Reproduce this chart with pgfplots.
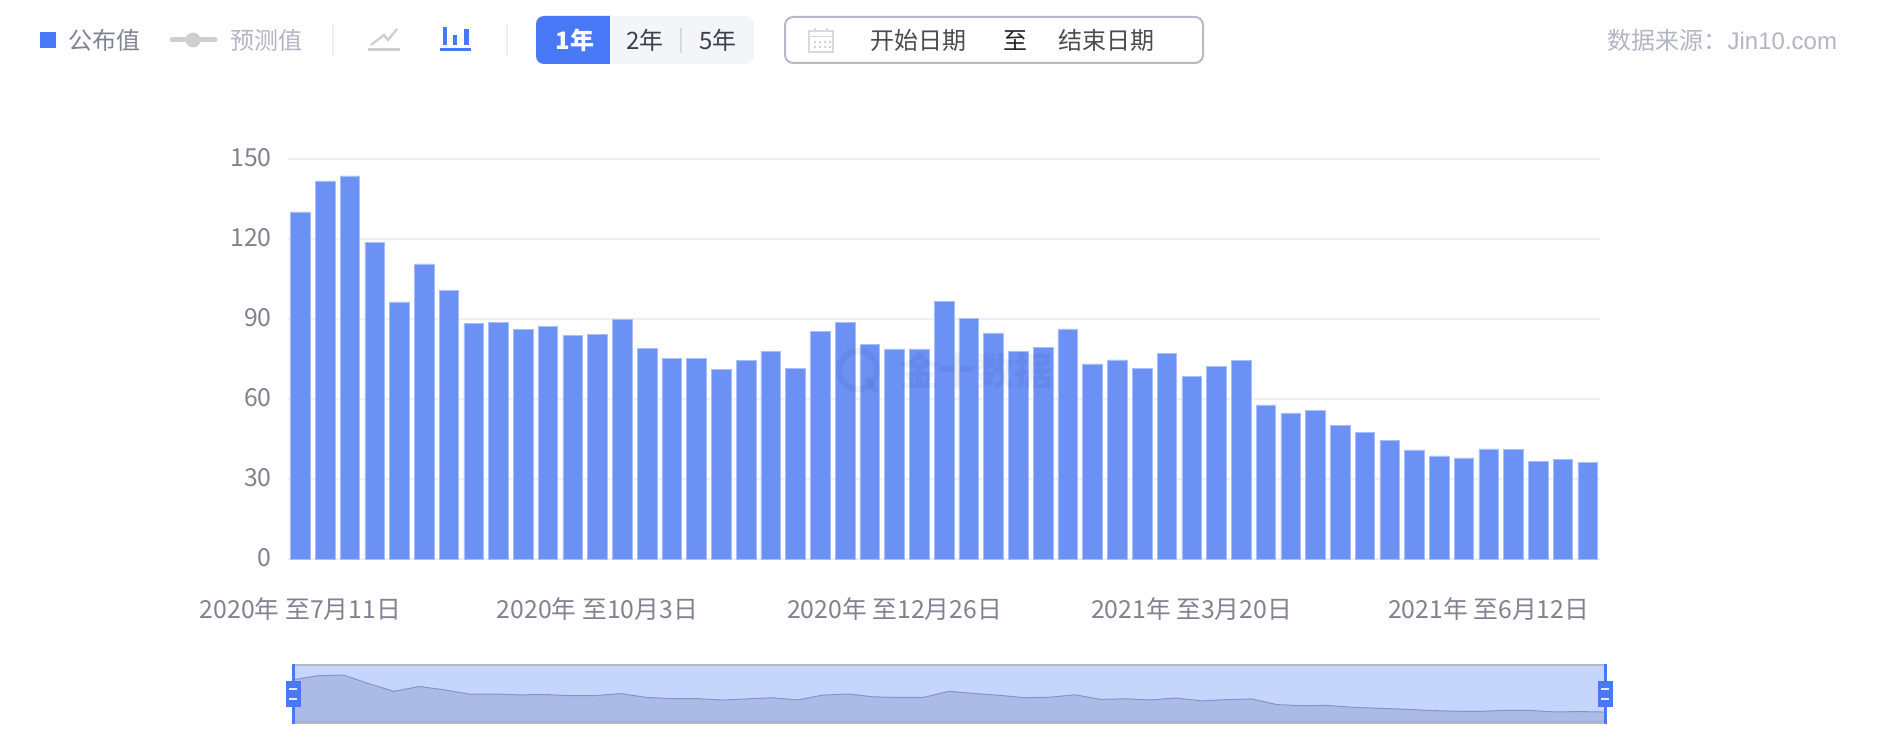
\documentclass[border=0pt]{standalone}
\usepackage{fontspec}
\usepackage{pgfplots}
\usepackage{pgfplotstable}
\pgfplotsset{compat=1.18}
\setmainfont{Noto Sans CJK SC}
\newfontfamily\latin{Liberation Sans}
\definecolor{barc}{HTML}{6B91F4}
\definecolor{baredge}{HTML}{A6BEF9}
\definecolor{gridc}{HTML}{EEEFF3}
\definecolor{labc}{HTML}{7F8290}
\definecolor{mainblue}{HTML}{4878F5}
\definecolor{sel}{HTML}{C5D5FC}
\definecolor{areac}{HTML}{ACBBE6}
\definecolor{linec}{HTML}{8295CB}
\definecolor{frame}{HTML}{B4B8C8}
\definecolor{faint}{HTML}{B2B5C3}
\definecolor{iconc}{HTML}{CFCFCF}
\definecolor{sepc}{HTML}{EEEEF1}
\definecolor{btn}{HTML}{F3F5F9}
\definecolor{dark}{HTML}{3A3F4F}
\pgfplotstableread{
i v
0 130.2
1 141.8
2 143.7
3 118.8
4 96.4
5 110.7
6 100.8
7 88.3
8 88.6
9 86.2
10 87.2
11 83.9
12 84.2
13 89.9
14 78.9
15 75.3
16 75.3
17 71.1
18 74.4
19 77.9
20 71.4
21 85.4
22 88.7
23 80.4
24 78.8
25 78.8
26 96.7
27 90.2
28 84.8
29 78
30 79.4
31 86.3
32 73.2
33 74.7
34 71.4
35 77.2
36 68.6
37 72.2
38 74.4
39 57.8
40 54.8
41 55.6
42 50.1
43 47.4
44 44.6
45 40.9
46 38.7
47 37.9
48 41.3
49 41.2
50 36.6
51 37.5
52 36.2
}\datatable
\newcommand{\tf}{\fontsize{12pt}{14pt}\selectfont}
\newcommand{\lf}{\fontsize{12.4pt}{14pt}\selectfont}
\tikzset{px/.style={x=0.5pt,y=-0.5pt,yshift=373pt,every node/.style={inner sep=0pt,outer sep=0pt}}}
\begin{document}
\begin{tikzpicture}
\begin{scope}[px]
\path[use as bounding box] (0,0) rectangle (1888,746);
% toolbar: legend
\fill[mainblue] (40,32) rectangle (56,48);
\node[anchor=base,text=labc,font=\tf] at (104,50) {公布值};
\draw[iconc,line width=2.5pt,line cap=round] (172,40) -- (215,40);
\fill[iconc] (193,40) circle (7.5);
\node[anchor=base,text=faint,font=\tf] at (266,50) {预测值};
\draw[sepc,line width=1pt] (333,24) -- (333,56);
% line icon
\draw[iconc,line width=1.5pt] (368,50) -- (400,50);
\draw[iconc,line width=1.2pt] (371,45) -- (384,35) -- (388,40) -- (397,29);
% bar icon
\fill[mainblue] (440,48.5) rectangle (471,51.5);
\fill[mainblue] (443,27) rectangle (447,45);
\fill[mainblue] (453,35) rectangle (457,45);
\fill[mainblue] (464,29) rectangle (469,45);
\draw[sepc,line width=1pt] (507,24) -- (507,56);
% buttons
\fill[btn,rounded corners=4pt] (536,16) rectangle (754,64);
\fill[mainblue,rounded corners=4pt] (536,16) rectangle (620,64);
\fill[btn] (610,16) rectangle (625,64);
\node[anchor=base,text=white,font=\tf\bfseries] at (575,50) {1年};
\node[anchor=base,text=dark,font=\tf] at (645,50) {2年};
\draw[gray!30,line width=0.6pt] (681,28) -- (681,53);
\node[anchor=base,text=dark,font=\tf] at (718,50) {5年};
% date box
\draw[frame,line width=1pt,rounded corners=4pt] (785,17) rectangle (1203,63);
\draw[black!15,line width=0.7pt] (809,31) rectangle (833,52);
\draw[black!15,line width=0.7pt] (809,36.5) -- (833,36.5);
\draw[black!15,line width=0.7pt] (815,28) -- (815,32) (827,28) -- (827,32);
\foreach \xx in {814,819,824,829}{\fill[black!18] (\xx,41) rectangle +(2,2);\fill[black!18] (\xx,46) rectangle +(2,2);}
\node[anchor=base,text=black!70,font=\tf] at (918.5,50) {开始日期};
\node[anchor=base,text=black!85,font=\tf] at (1015,50) {至};
\node[anchor=base,text=black!70,font=\tf] at (1106,50) {结束日期};
\node[anchor=base east,text=faint,font=\tf] at (1837,50) {数据来源：{\latin Jin10.com}};
\end{scope}
% main axis
\begin{axis}[
  at={(144pt,93.5pt)},anchor=south west,scale only axis,
  width=656pt,height=200pt,
  xmin=-0.5,xmax=52.5,ymin=0,ymax=150,
  axis x line=bottom,axis y line=left,
  axis line style={-},
  x axis line style={draw=gridc,line width=1pt},
  y axis line style={draw=none},
  ytick={0,30,60,90,120,150},
  xtick={0,12,24,36,48},
  xticklabels={2020年 至7月11日,2020年 至10月3日,2020年 至12月26日,2021年 至3月20日,2021年 至6月12日},
  major tick length=0pt,
  ymajorgrids,
  major grid style={draw=gridc,line width=1pt},
  /pgf/number format/assume math mode=true,
  ticklabel style={font=\lf,text=labc},
  yticklabel style={inner sep=0pt,xshift=-8pt,yshift=0.5pt},
  xticklabel style={inner sep=0pt,yshift=-19pt},
]
\addplot[ybar,bar width=9.8pt,bar shift=0pt,fill=barc,draw=baredge,line width=0.25pt] table[x=i,y=v] {\datatable};
\end{axis}
\begin{scope}[px]
% watermark
\begin{scope}[opacity=0.05]
\draw[black!70!blue,line width=3pt] (858,370) circle (19);
\draw[black!70!blue,line width=3pt] (866,378) -- (876,392);
\node[anchor=west,text=black!70!blue,font=\fontsize{19pt}{21pt}\selectfont\bfseries] at (900,371) {金十数据};
\end{scope}
\fill[sel] (293,665) rectangle (1605,722);
\end{scope}
% minimap
\begin{axis}[
  at={(146.5pt,12pt)},anchor=south west,scale only axis,
  width=656pt,height=28.5pt,
  xmin=0,xmax=52,ymin=7.3,ymax=173,
  axis lines=none,clip=false,
]
\addplot[draw=linec,line width=0.5pt,fill=areac] table[x=i,y=v] {\datatable} \closedcycle;
\end{axis}
\begin{scope}[px]
\draw[frame,line width=1pt] (293,665) -- (1605,665) (293,722.7) -- (1605,722.7);
\draw[mainblue,line width=1.5pt] (293,664) -- (293,724) (1605,664) -- (1605,724);
\foreach \cx in {293,1605}{
  \fill[mainblue] (\cx-7.5,681) rectangle (\cx+7.5,707);
  \fill[white!85!mainblue] (\cx-4,688) rectangle (\cx+4,690);
  \fill[white!85!mainblue] (\cx-4,698) rectangle (\cx+4,700);
}
\end{scope}
\end{tikzpicture}
\end{document}
